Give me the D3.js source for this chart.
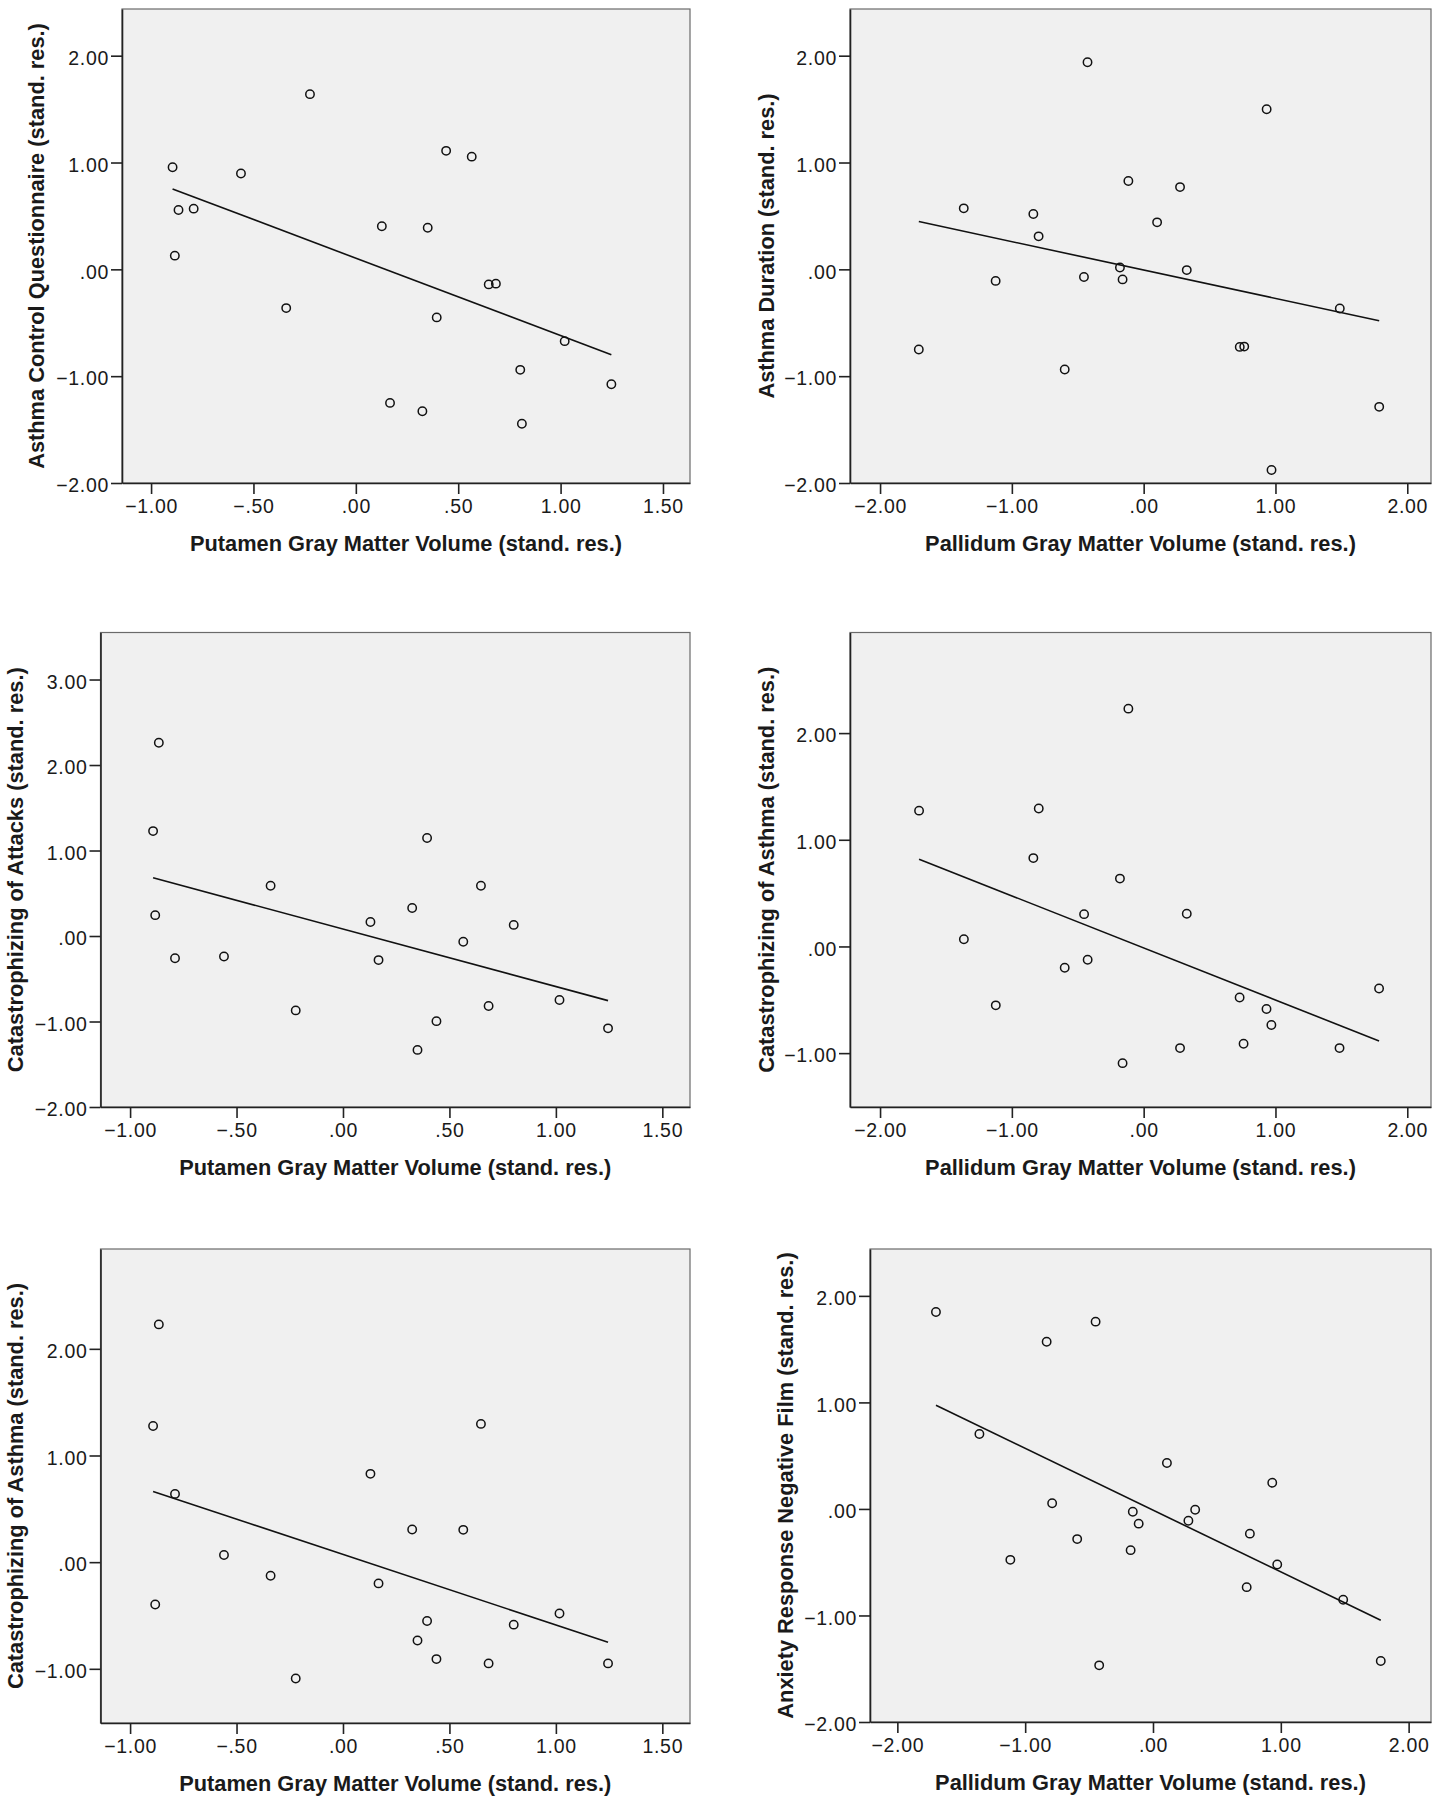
<!DOCTYPE html>
<html>
<head>
<meta charset="utf-8">
<script src="https://cdn.jsdelivr.net/npm/d3@7"></script>
<style>
  html, body { margin: 0; padding: 0; background: #ffffff; }
  svg { display: block; }
  .tick-label { font-family: "Liberation Sans", Arial, sans-serif; font-size: 19.5px; fill: #1a1a1a; letter-spacing: 0.7px; }
  .axis-title { font-family: "Liberation Sans", Arial, sans-serif; font-size: 21.8px; font-weight: bold; fill: #1a1a1a; }
</style>
</head>
<body>
<svg id="chart" width="1445" height="1800"></svg>
<script>
// ---------- Data ----------
const putamenTicks = [-1.0, -0.5, 0.0, 0.5, 1.0, 1.5];
const pallidumTicks = [-2, -1, 0, 1, 2];

const xTitlePutamen = "Putamen Gray Matter Volume (stand. res.)";
const xTitlePallidum = "Pallidum Gray Matter Volume (stand. res.)";

// Panel 1: Asthma Control Questionnaire vs Putamen
const p1x = [-0.895, -0.561, -0.224, -0.866, -0.792, -0.884, -0.340, 0.127, 0.351, 0.441, 0.566, 0.649, 0.684, 0.395, 0.167, 0.325, 0.811, 0.803, 1.020, 1.248];
const p1y = [0.955, 0.897, 1.640, 0.555, 0.568, 0.128, -0.363, 0.403, 0.390, 1.109, 1.055, -0.141, -0.134, -0.450, -1.250, -1.328, -1.445, -0.941, -0.672, -1.076];
const p1fit = [[-0.895, 0.753], [1.248, -0.800]];

// Panel 2: Asthma Duration vs Pallidum
const p2x = [-0.426, 0.933, -1.365, -0.837, -0.797, -0.116, 0.276, 0.102, -0.180, 0.327, -0.453, -0.160, -1.123, 1.488, -1.706, 0.729, 0.763, -0.599, 1.787, 0.970];
const p2y = [1.939, 1.499, 0.571, 0.518, 0.309, 0.827, 0.770, 0.440, 0.017, -0.007, -0.071, -0.094, -0.108, -0.366, -0.750, -0.726, -0.723, -0.938, -1.287, -1.879];
const p2fit = [[-1.706, 0.447], [1.787, -0.481]];

// Panel 3: Catastrophizing of Attacks vs Putamen
const p3x = [-0.865, -0.892, 0.395, -0.882, -0.789, -0.559, -0.340, -0.222, 0.129, 0.167, 0.325, 0.648, 0.565, 0.802, 0.684, 0.439, 0.350, 1.017, 1.245];
const p3y = [2.261, 1.227, 1.147, 0.244, -0.261, -0.239, 0.588, -0.870, 0.164, -0.282, 0.328, 0.588, -0.067, 0.130, -0.819, -0.996, -1.332, -0.748, -1.080];
const p3fit = [[-0.892, 0.681], [1.245, -0.756]];

// Panel 4: Catastrophizing of Asthma vs Pallidum
const p4x = [-0.116, -1.704, -0.796, -0.837, -0.180, -0.452, 0.327, -1.364, -0.599, -0.425, -1.122, 0.728, 0.932, 0.969, 1.786, 0.758, 0.276, 1.486, -0.160];
const p4y = [2.229, 1.273, 1.293, 0.828, 0.636, 0.303, 0.306, 0.067, -0.199, -0.125, -0.552, -0.478, -0.586, -0.737, -0.394, -0.912, -0.953, -0.953, -1.094];
const p4fit = [[-1.704, 0.818], [1.786, -0.886]];

// Panel 5: Catastrophizing of Asthma vs Putamen
const p5x = [-0.865, -0.892, 0.648, 0.129, -0.789, 0.325, 0.565, -0.559, -0.340, 0.167, -0.882, 0.395, 0.802, 1.017, 0.350, 0.439, 0.684, 1.245, -0.222];
const p5y = [2.229, 1.276, 1.296, 0.828, 0.640, 0.306, 0.303, 0.067, -0.128, -0.199, -0.397, -0.552, -0.586, -0.481, -0.734, -0.909, -0.949, -0.949, -1.091];
const p5fit = [[-0.892, 0.663], [1.245, -0.751]];

// Panel 6: Anxiety Response Negative Film vs Pallidum
const p6x = [-1.698, -0.449, -0.832, -1.358, 0.109, 0.933, -0.789, -0.158, 0.330, -0.112, 0.277, -0.593, 0.758, -0.175, -1.116, 0.972, 0.733, 1.488, -0.421, 1.782];
const p6y = [1.848, 1.758, 1.569, 0.704, 0.431, 0.246, 0.054, -0.027, -0.007, -0.138, -0.111, -0.283, -0.232, -0.387, -0.478, -0.522, -0.734, -0.852, -1.468, -1.428];
const p6fit = [[-1.698, 0.973], [1.782, -1.044]];

// ---------- Layout ----------
const panels = [
  { xs: p1x, ys: p1y, fit: p1fit, frame: [122, 9, 690, 483], xDomain: [-1.142, 1.632], yDomain: [-2, 2.437],
    xTicks: putamenTicks, yTicks: [-2, -1, 0, 1, 2], xTitle: xTitlePutamen,
    yTitle: "Asthma Control Questionnaire (stand. res.)", yTitleX: 36 },
  { xs: p2x, ys: p2y, fit: p2fit, frame: [850, 9, 1431, 483], xDomain: [-2.228, 2.18], yDomain: [-2, 2.437],
    xTicks: pallidumTicks, yTicks: [-2, -1, 0, 1, 2], xTitle: xTitlePallidum,
    yTitle: "Asthma Duration (stand. res.)", yTitleX: 766 },
  { xs: p3x, ys: p3y, fit: p3fit, frame: [100.5, 632.5, 690, 1107], xDomain: [-1.139, 1.63], yDomain: [-2, 3.55],
    xTicks: putamenTicks, yTicks: [-2, -1, 0, 1, 2, 3], xTitle: xTitlePutamen,
    yTitle: "Catastrophizing of Attacks (stand. res.)", yTitleX: 15 },
  { xs: p4x, ys: p4y, fit: p4fit, frame: [850, 632.5, 1431, 1107], xDomain: [-2.228, 2.18], yDomain: [-1.505, 2.943],
    xTicks: pallidumTicks, yTicks: [-1, 0, 1, 2], xTitle: xTitlePallidum,
    yTitle: "Catastrophizing of Asthma (stand. res.)", yTitleX: 766 },
  { xs: p5x, ys: p5y, fit: p5fit, frame: [100.5, 1249, 690, 1723], xDomain: [-1.139, 1.63], yDomain: [-1.508, 2.936],
    xTicks: putamenTicks, yTicks: [-1, 0, 1, 2], xTitle: xTitlePutamen,
    yTitle: "Catastrophizing of Asthma (stand. res.)", yTitleX: 15 },
  { xs: p6x, ys: p6y, fit: p6fit, frame: [870, 1249, 1431, 1722], xDomain: [-2.214, 2.175], yDomain: [-2, 2.44],
    xTicks: pallidumTicks, yTicks: [-2, -1, 0, 1, 2], xTitle: xTitlePallidum,
    yTitle: "Anxiety Response Negative Film (stand. res.)", yTitleX: 785 }
];

function fmt(v) {
  let s = d3.format(".2f")(v);
  if (Math.abs(v) < 1) s = s.replace("0.", ".");
  return s;
}

const svg = d3.select("#chart");

panels.forEach(p => {
  const [x0, y0, x1, y1] = p.frame;
  const x = d3.scaleLinear().domain(p.xDomain).range([x0, x1]);
  const y = d3.scaleLinear().domain(p.yDomain).range([y1, y0]);
  const g = svg.append("g");

  // plot background + frame
  g.append("rect")
    .attr("x", x0).attr("y", y0)
    .attr("width", x1 - x0).attr("height", y1 - y0)
    .attr("fill", "#f0f0f0")
    .attr("stroke", "#6a6a6a").attr("stroke-width", 1.2);

  // axes
  const xAxis = d3.axisBottom(x).tickValues(p.xTicks).tickFormat(fmt).tickSize(11).tickSizeOuter(0).tickPadding(4);
  const yAxis = d3.axisLeft(y).tickValues(p.yTicks).tickFormat(fmt).tickSize(11).tickSizeOuter(0).tickPadding(2);

  const gx = g.append("g").attr("transform", `translate(0,${y1})`).call(xAxis);
  const gy = g.append("g").attr("transform", `translate(${x0},0)`).call(yAxis);
  [gx, gy].forEach(a => {
    a.select(".domain").attr("stroke", "#222").attr("stroke-width", 1.6);
    a.selectAll(".tick line").attr("stroke", "#222").attr("stroke-width", 1.6);
    a.selectAll(".tick text").attr("class", "tick-label").attr("font-size", null).attr("font-family", null).attr("fill", null);
  });
  gx.selectAll(".tick text").attr("dy", "0.78em");
  gy.selectAll(".tick text").attr("dy", "0.45em");

  // fit line
  g.append("line")
    .attr("x1", x(p.fit[0][0])).attr("y1", y(p.fit[0][1]))
    .attr("x2", x(p.fit[1][0])).attr("y2", y(p.fit[1][1]))
    .attr("stroke", "#111").attr("stroke-width", 1.6);

  // points
  g.append("g").selectAll("circle")
    .data(p.xs.map((v, i) => [v, p.ys[i]]))
    .join("circle")
    .attr("cx", d => x(d[0])).attr("cy", d => y(d[1]))
    .attr("r", 4.2)
    .attr("fill", "none")
    .attr("stroke", "#111").attr("stroke-width", 1.5);

  // titles
  g.append("text").attr("class", "axis-title")
    .attr("x", (x0 + x1) / 2).attr("y", y1 + 68)
    .attr("text-anchor", "middle")
    .text(p.xTitle);

  g.append("text").attr("class", "axis-title")
    .attr("transform", `translate(${p.yTitleX},${(y0 + y1) / 2}) rotate(-90)`)
    .attr("text-anchor", "middle").attr("dy", "0.36em")
    .text(p.yTitle);
});
</script>
</body>
</html>
